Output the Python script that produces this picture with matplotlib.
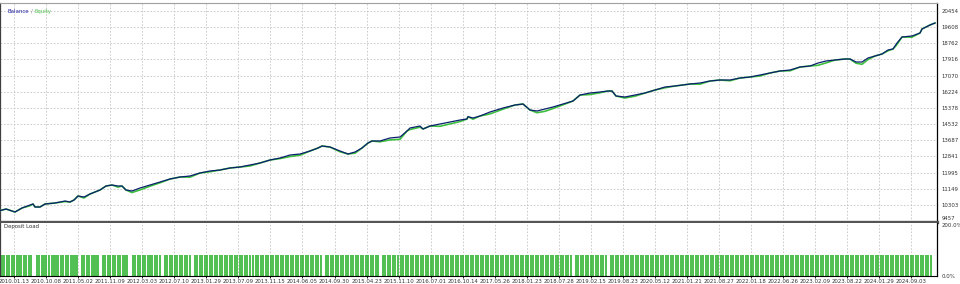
import matplotlib
matplotlib.use("Agg")
import matplotlib.pyplot as plt
from matplotlib.offsetbox import TextArea, HPacker, AnchoredOffsetbox

# balance curve (t = position along the test period)
t = [0, 6, 12, 15, 22, 30, 33, 35, 40, 45,
     55, 65, 70, 74, 78, 84, 90, 100, 106, 112,
     118, 122, 126, 132, 140, 150, 160, 170, 180, 190,
     200, 210, 220, 230, 240, 250, 260, 270, 280, 290,
     300, 310, 318, 322, 330, 340, 348, 355, 362, 368,
     372, 380, 390, 400, 407, 410, 420, 423, 430, 440,
     450, 460, 467, 468, 473, 480, 490, 503, 515, 523,
     530, 537, 545, 553, 563, 573, 580, 590, 600, 608,
     612, 616, 625, 635, 645, 655, 665, 675, 690, 700,
     710, 720, 730, 740, 750, 760, 770, 780, 790, 800,
     810, 818, 826, 835, 845, 850, 856, 862, 868, 875,
     882, 888, 893, 897, 902, 912, 920, 922, 930, 935]
balance = [10000, 10085, 9981, 9928, 10138, 10295, 10347, 10190, 10190, 10347,
           10400, 10504, 10452, 10557, 10766, 10714, 10871, 11080, 11290, 11342,
           11290, 11290, 11080, 11028, 11185, 11342, 11499, 11656, 11761, 11814,
           11971, 12076, 12128, 12233, 12285, 12390, 12494, 12651, 12756, 12913,
           12966, 13123, 13280, 13385, 13332, 13123, 12966, 13070, 13280, 13542,
           13647, 13647, 13804, 13856, 14170, 14327, 14432, 14275, 14432, 14537,
           14641, 14746, 14800, 14920, 14851, 14956, 15165, 15375, 15532, 15584,
           15270, 15218, 15322, 15427, 15584, 15741, 16055, 16160, 16213, 16265,
           16265, 16003, 15951, 16055, 16160, 16317, 16474, 16527, 16631, 16684,
           16789, 16841, 16841, 16946, 16998, 17103, 17208, 17313, 17365, 17522,
           17574, 17731, 17836, 17888, 17941, 17941, 17784, 17784, 17993, 18098,
           18203, 18412, 18465, 18779, 19093, 19146, 19303, 19512, 19722, 19827]
# floating loss, equity = balance + floating
floating = [0, 0, 0, 0, 0, -40, 0, 0, 0, 0,
            0, -30, 0, 0, 0, -50, 0, 0, 0, 0,
            -60, 0, 0, -80, -100, -60, -40, 0, 0, -60,
            0, -40, 0, 0, 0, -50, 0, 0, -30, -80,
            -60, 0, 0, 0, 0, -40, 0, -60, 0, 0,
            0, -40, -100, -120, 0, -80, -60, 0, 0, -120,
            -100, -80, 0, 0, -60, 0, -100, -60, 0, 0,
            0, -90, -120, -80, -40, 0, 0, -80, -40, 0,
            0, 0, -50, -60, 0, 0, -40, 0, 0, -60,
            0, 0, -40, 0, 0, -50, 0, 0, -40, 0,
            0, -120, -100, 0, 0, 0, -60, -120, -80, 0,
            0, -40, 0, -80, 0, -60, 0, 0, 0, 0]
equity = [b + f for b, f in zip(balance, floating)]

# deals shown in the deposit load panel
deals = [2, 4, 7, 9, 12, 14, 17, 19, 21, 24, 26, 29, 31, 37, 39, 42, 44, 46, 49, 52,
         54, 56, 58, 61, 63, 66, 68, 71, 73, 75, 77, 82, 84, 87, 89, 92, 94, 96, 98,
         103, 105, 108, 110, 113, 115, 118, 120, 123, 125, 127, 133, 135, 138, 140, 143,
         145, 148, 150, 152, 155, 157, 160, 165, 167, 170, 172, 175, 177, 180, 182, 185,
         187, 190, 195, 197,
         200, 202, 205, 207, 210, 212, 215, 217, 220, 222, 225, 227, 230, 232, 235, 237,
         240, 242, 245, 247, 250, 253, 256, 258, 261, 263, 266, 268, 271, 273, 276, 278,
         281, 283, 286, 288, 291, 293, 296, 298,
         301, 303, 306, 308, 311, 313, 316, 318, 321, 326, 328, 331, 333, 336, 338, 341,
         343, 346, 348, 351, 353, 356, 358, 361, 363, 366, 368, 371, 373, 376, 378, 383,
         385, 388, 390, 393, 395, 398,
         401, 403, 406, 408, 411, 413, 416, 418, 421, 423, 426, 428, 431, 433, 436, 438,
         441, 443, 446, 448, 451, 453, 456, 458, 461, 463, 466, 468, 471, 473, 476, 478,
         481, 483, 486, 488, 491, 493, 496, 498,
         501, 503, 506, 508, 511, 513, 516, 518, 521, 523, 526, 528, 531, 533, 536, 538,
         541, 543, 546, 548, 551, 553, 556, 558, 561, 563, 566, 568, 571, 576, 578, 581,
         583, 586, 588, 591, 593, 596, 598,
         601, 603, 606, 611, 613, 616, 618, 621, 623, 626, 628, 631, 633, 636, 638, 641,
         643, 646, 648, 651, 653, 656, 658, 661, 663, 666, 668, 671, 673, 676, 678, 681,
         683, 686, 688, 691, 693, 696, 698,
         701, 703, 706, 708, 711, 713, 716, 718, 721, 723, 726, 728, 731, 733, 736, 738,
         741, 743, 746, 748, 751, 753, 756, 758, 761, 763, 766, 768, 771, 773, 776, 778,
         781, 783, 786, 788, 791, 793, 796, 798,
         801, 803, 806, 808, 811, 813, 816, 818, 821, 823, 826, 828, 831, 833, 836, 838,
         841, 843, 846, 848, 851, 853, 856, 858, 861, 863, 866, 868, 871, 873, 876, 878,
         881, 883, 886, 888, 891, 893, 896, 898, 901, 903, 906, 908, 911, 913, 916, 918,
         921, 923, 926, 928, 931]
load_pct = 79

price_ticks = [9457, 10303, 11149, 11995, 12841, 13687, 14532, 15378,
               16224, 17070, 17916, 18762, 19608, 20454]
date_labels = ["2010.01.13", "2010.10.08", "2011.05.02", "2011.11.09", "2012.03.03",
               "2012.07.10", "2013.01.29", "2013.07.09", "2013.11.15", "2014.06.05",
               "2014.09.30", "2015.04.23", "2015.11.10", "2016.07.01", "2016.10.14",
               "2017.05.26", "2018.01.23", "2018.07.28", "2019.02.15", "2019.08.23",
               "2020.05.12", "2021.01.21", "2021.08.27", "2022.01.18", "2022.06.26",
               "2023.02.09", "2023.08.22", "2024.01.29", "2024.09.03"]

plt.rcParams['font.family'] = ['Liberation Sans Narrow', 'DejaVu Sans']
fs = 3.9
grid_kw = dict(color='#c4c4c4', linestyle=(0, (2, 2)), linewidth=0.6)
date_pos = [14 + 32.05 * i for i in range(len(date_labels))]

fig = plt.figure(figsize=(9.6, 2.84), dpi=100)
ax = fig.add_axes([0, 62 / 284, 937 / 960, 219 / 284])
low = fig.add_axes([0, 8 / 284, 937 / 960, 53 / 284])

# main balance / equity panel
ax.plot(t, equity, color='#3cbf3c', lw=1.2, zorder=3)
ax.plot(t, balance, color='#0b1f6e', lw=0.9, zorder=4)
ax.set_xlim(0, 937)
ax.set_ylim(9405, 20874)
ax.set_yticks(price_ticks)
ax.set_yticklabels([str(v) for v in price_ticks])
ax.yaxis.tick_right()
ax.tick_params(axis='y', length=0, pad=3, labelsize=fs, labelcolor='#333333')
ax.get_yticklabels()[0].set_va('bottom')
ax.set_xticks(date_pos)
ax.tick_params(axis='x', length=0, labelbottom=False)
ax.grid(True, **grid_kw)
ax.set_axisbelow(True)
ax.spines['bottom'].set_color('#555555')
ax.spines['bottom'].set_linewidth(2.4)
ax.spines['right'].set_color('black')
ax.spines['right'].set_linewidth(0.9)
ax.spines['top'].set_color('#a0a0a0')
ax.spines['top'].set_linewidth(0.8)
ax.spines['left'].set_color('#404040')
ax.spines['left'].set_linewidth(0.9)

legend = HPacker(children=[
    TextArea("Balance", textprops=dict(color='#2020a0', fontsize=fs)),
    TextArea("/", textprops=dict(color='#888888', fontsize=fs)),
    TextArea("Equity", textprops=dict(color='#4cc04c', fontsize=fs))],
    align='baseline', pad=0, sep=1.5)
ax.add_artist(AnchoredOffsetbox(loc='upper left', child=legend, pad=0.1,
                                borderpad=0.3, frameon=False,
                                bbox_to_anchor=(2, 281), bbox_transform=None))

# deposit load panel
low.vlines(deals, 0, load_pct, color='#1fae1f', lw=1.1)
low.set_xlim(0, 937)
low.set_ylim(0, 200)
low.set_yticks([0, 200])
low.set_yticklabels(['0.0%', '200.0%'])
low.yaxis.tick_right()
low.tick_params(axis='y', length=0, pad=3, labelsize=fs, labelcolor='#333333')
low.get_yticklabels()[1].set_va('top')
low.set_xticks(date_pos)
low.set_xticklabels(date_labels)
low.tick_params(axis='x', length=1.5, width=0.6, pad=1, labelsize=fs,
                labelcolor='#333333')
low.grid(True, axis='x', **grid_kw)
low.set_axisbelow(True)
low.spines['top'].set_visible(False)
low.spines['right'].set_color('black')
low.spines['right'].set_linewidth(0.9)
low.spines['bottom'].set_color('black')
low.spines['bottom'].set_linewidth(0.8)
low.spines['left'].set_color('#404040')
low.spines['left'].set_linewidth(0.9)
low.text(4, 196, "Deposit Load", fontsize=fs, color='#333333', va='top')

fig.savefig('out.png', dpi=100, facecolor='white')
